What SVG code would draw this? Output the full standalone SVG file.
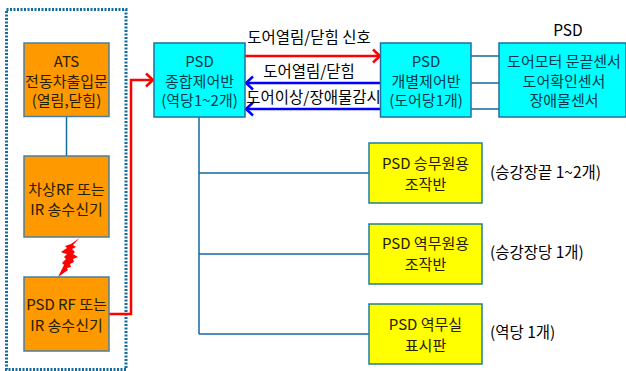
<svg xmlns="http://www.w3.org/2000/svg" width="626" height="371" viewBox="0 0 626 371">
<style>
text{font-family:"Noto Sans CJK KR","Liberation Sans",sans-serif;text-anchor:middle;font-size:15px;fill:#262000}
.o{fill:#ff9900;stroke:#4a7f9f;stroke-width:1.5}
.c{fill:#00ffff;stroke:#1f6fa0;stroke-width:1.5}
.y{fill:#ffff00;stroke:#1f7fa0;stroke-width:1.5}
.l{fill:none;stroke:#156a9e;stroke-width:1.5}
.cy{fill:#003a4a}
.yt{font-size:15px}
.lab{fill:#000;font-size:15.500px}
.side{fill:#000;font-size:15.500px;text-anchor:start}
.r{fill:none;stroke:#ff0000;stroke-width:2.500}
.b{fill:none;stroke:#0000ff;stroke-width:2.500}
</style>
<defs>
<marker id="ar" markerUnits="userSpaceOnUse" markerWidth="12" markerHeight="16" refX="10" refY="8" orient="auto"><path d="M3 1.500L10 8L3 14.500" fill="none" stroke="#ff0000" stroke-width="2.500"/></marker>
<marker id="ab" markerUnits="userSpaceOnUse" markerWidth="12" markerHeight="16" refX="10" refY="8" orient="auto"><path d="M3 1.500L10 8L3 14.500" fill="none" stroke="#0000ff" stroke-width="2.500"/></marker>
</defs>
<rect id="boundary" x="6.500" y="9.500" width="119.500" height="360" fill="none" stroke="#156a9e" stroke-width="3" stroke-dasharray="2 1.500"/>
<g id="connectors">
<path class="l" d="M66.500 116V156"/>
<path class="l" d="M199 117V334M199 173H369M199 254H369M199 334H369"/>
<path class="l" d="M471 56H499M471 83H499M471 109H499"/>
<path class="r" d="M109 314H131V80H153" marker-end="url(#ar)"/>
<path class="r" d="M245 56H380" marker-end="url(#ar)"/>
<path class="b" d="M380 83H246" marker-end="url(#ab)"/>
<path class="b" d="M380 109H246" marker-end="url(#ab)"/>
</g>
<polygon id="bolt" points="79.500,238 73,245 76,247 72,249 75,252 73,254 78,257 73,259 74,262 70,264 71,267 67,268 68,270 58,277 62,269 64,265 62,263 66,259 64,257 67,254 63,253 61,252 67,248 65,246 71,244" fill="#ff0000"/>
<g id="ats"><rect class="o" x="24" y="43" width="85" height="73.500"/>
<text x="66.500" y="67">ATS</text><text x="66.500" y="87">전동차출입문</text><text x="66.500" y="106">(열림,닫힘)</text></g>
<g id="onboard"><rect class="o" x="24" y="156" width="85" height="81"/>
<text x="66.500" y="195">차상RF 또는</text><text x="66.500" y="215">IR 송수신기</text></g>
<g id="psdrf"><rect class="o" x="24" y="277" width="85" height="74"/>
<text x="66.500" y="310">PSD RF 또는</text><text x="66.500" y="331">IR 송수신기</text></g>
<g id="main"><rect class="c" x="154" y="43" width="91" height="74"/>
<text class="cy" x="199.500" y="67">PSD</text><text class="cy" x="199.500" y="87">종합제어반</text><text class="cy" x="199.500" y="106">(역당1~2개)</text></g>
<g id="door"><rect class="c" x="380.500" y="43" width="90.500" height="74"/>
<text class="cy" x="426" y="67">PSD</text><text class="cy" x="426" y="87">개별제어반</text><text class="cy" x="426" y="106">(도어당1개)</text></g>
<g id="sensors"><rect class="c" x="499" y="43" width="127" height="74"/>
<text class="cy" x="564" y="67">도어모터 문끝센서</text><text class="cy" x="564" y="87">도어확인센서</text><text class="cy" x="564" y="106">장애물센서</text></g>
<g id="crew"><rect class="y" x="369" y="143" width="113" height="60"/>
<text class="yt" x="425.500" y="169">PSD 승무원용</text><text class="yt" x="425.500" y="190">조작반</text></g>
<g id="staff"><rect class="y" x="369" y="224" width="113" height="60"/>
<text class="yt" x="425.500" y="249">PSD 역무원용</text><text class="yt" x="425.500" y="270">조작반</text></g>
<g id="display"><rect class="y" x="369" y="304" width="113" height="60"/>
<text class="yt" x="425.500" y="330">PSD 역무실</text><text class="yt" x="425.500" y="351">표시판</text></g>
<text class="lab" x="309" y="43">도어열림/닫힘 신호</text>
<text class="lab" x="309" y="77">도어열림/닫힘</text>
<text class="lab" x="313.500" y="103">도어이상/장애물감시</text>
<text class="lab" x="568" y="36">PSD</text>
<text class="side" x="490" y="178">(승강장끝 1~2개)</text>
<text class="side" x="490" y="258">(승강장당 1개)</text>
<text class="side" x="490" y="338">(역당 1개)</text>
</svg>
